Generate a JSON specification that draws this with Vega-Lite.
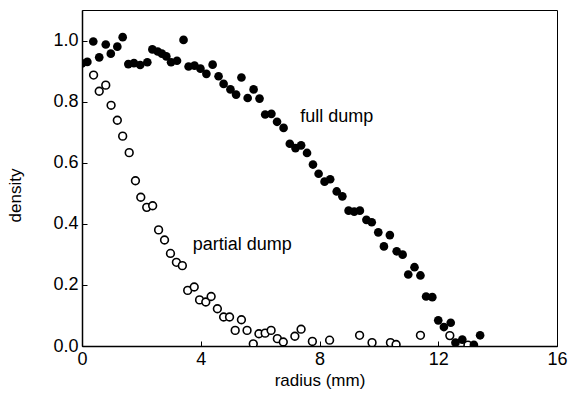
{
  "$schema": "https://vega.github.io/schema/vega-lite/v6.json",
  "width": 475,
  "height": 336,
  "autosize": "none",
  "padding": {"left": 82, "top": 10, "right": 11, "bottom": 56},
  "background": "white",
  "config": {
    "view": {"stroke": "black", "strokeWidth": 1},
    "font": "Liberation Sans",
    "axis": {
      "domainColor": "black", "domainWidth": 1.5,
      "tickColor": "black", "tickSize": -5, "tickWidth": 1,
      "labelColor": "black", "labelFont": "Liberation Sans", "labelFontSize": 18, "labelFlush": false, "labelOverlap": false,
      "titleColor": "black", "titleFont": "Liberation Sans", "titleFontSize": 17, "titleFontWeight": "normal",
      "grid": false
    }
  },
  "datasets": {
    "pts": [
      {"r": 0.0, "density": 0.925, "series": "full"},
      {"r": 0.18, "density": 0.93, "series": "full"},
      {"r": 0.38, "density": 0.997, "series": "full"},
      {"r": 0.58, "density": 0.945, "series": "full"},
      {"r": 0.80, "density": 0.987, "series": "full"},
      {"r": 0.97, "density": 0.957, "series": "full"},
      {"r": 1.19, "density": 0.98, "series": "full"},
      {"r": 1.37, "density": 1.011, "series": "full"},
      {"r": 1.56, "density": 0.923, "series": "full"},
      {"r": 1.75, "density": 0.926, "series": "full"},
      {"r": 1.96, "density": 0.92, "series": "full"},
      {"r": 2.2, "density": 0.929, "series": "full"},
      {"r": 2.37, "density": 0.971, "series": "full"},
      {"r": 2.55, "density": 0.964, "series": "full"},
      {"r": 2.69, "density": 0.957, "series": "full"},
      {"r": 2.84, "density": 0.948, "series": "full"},
      {"r": 3.0, "density": 0.929, "series": "full"},
      {"r": 3.2, "density": 0.934, "series": "full"},
      {"r": 3.42, "density": 1.002, "series": "full"},
      {"r": 3.59, "density": 0.915, "series": "full"},
      {"r": 3.79, "density": 0.918, "series": "full"},
      {"r": 3.99, "density": 0.908, "series": "full"},
      {"r": 4.19, "density": 0.891, "series": "full"},
      {"r": 4.4, "density": 0.921, "series": "full"},
      {"r": 4.6, "density": 0.883, "series": "full"},
      {"r": 4.77, "density": 0.858, "series": "full"},
      {"r": 5.0, "density": 0.84, "series": "full"},
      {"r": 5.19, "density": 0.823, "series": "full"},
      {"r": 5.37, "density": 0.879, "series": "full"},
      {"r": 5.58, "density": 0.812, "series": "full"},
      {"r": 5.78, "density": 0.84, "series": "full"},
      {"r": 5.98, "density": 0.81, "series": "full"},
      {"r": 6.17, "density": 0.758, "series": "full"},
      {"r": 6.38, "density": 0.76, "series": "full"},
      {"r": 6.57, "density": 0.734, "series": "full"},
      {"r": 6.79, "density": 0.714, "series": "full"},
      {"r": 7.0, "density": 0.662, "series": "full"},
      {"r": 7.19, "density": 0.648, "series": "full"},
      {"r": 7.38, "density": 0.657, "series": "full"},
      {"r": 7.58, "density": 0.632, "series": "full"},
      {"r": 7.78, "density": 0.594, "series": "full"},
      {"r": 7.97, "density": 0.564, "series": "full"},
      {"r": 8.17, "density": 0.538, "series": "full"},
      {"r": 8.36, "density": 0.546, "series": "full"},
      {"r": 8.58, "density": 0.506, "series": "full"},
      {"r": 8.77, "density": 0.49, "series": "full"},
      {"r": 8.98, "density": 0.443, "series": "full"},
      {"r": 9.17, "density": 0.44, "series": "full"},
      {"r": 9.36, "density": 0.443, "series": "full"},
      {"r": 9.58, "density": 0.413, "series": "full"},
      {"r": 9.76, "density": 0.405, "series": "full"},
      {"r": 9.98, "density": 0.372, "series": "full"},
      {"r": 10.17, "density": 0.326, "series": "full"},
      {"r": 10.37, "density": 0.363, "series": "full"},
      {"r": 10.6, "density": 0.31, "series": "full"},
      {"r": 10.8, "density": 0.299, "series": "full"},
      {"r": 10.99, "density": 0.234, "series": "full"},
      {"r": 11.2, "density": 0.258, "series": "full"},
      {"r": 11.4, "density": 0.231, "series": "full"},
      {"r": 11.59, "density": 0.162, "series": "full"},
      {"r": 11.8, "density": 0.16, "series": "full"},
      {"r": 12.0, "density": 0.084, "series": "full"},
      {"r": 12.19, "density": 0.062, "series": "full"},
      {"r": 12.42, "density": 0.076, "series": "full"},
      {"r": 12.58, "density": 0.011, "series": "full"},
      {"r": 12.81, "density": 0.021, "series": "full"},
      {"r": 13.2, "density": 0.004, "series": "full"},
      {"r": 13.41, "density": 0.035, "series": "full"},
      {"r": 0.39, "density": 0.887, "series": "partial"},
      {"r": 0.58, "density": 0.834, "series": "partial"},
      {"r": 0.80, "density": 0.854, "series": "partial"},
      {"r": 0.98, "density": 0.788, "series": "partial"},
      {"r": 1.19, "density": 0.739, "series": "partial"},
      {"r": 1.37, "density": 0.687, "series": "partial"},
      {"r": 1.59, "density": 0.633, "series": "partial"},
      {"r": 1.8, "density": 0.541, "series": "partial"},
      {"r": 1.98, "density": 0.487, "series": "partial"},
      {"r": 2.18, "density": 0.454, "series": "partial"},
      {"r": 2.38, "density": 0.459, "series": "partial"},
      {"r": 2.58, "density": 0.38, "series": "partial"},
      {"r": 2.78, "density": 0.347, "series": "partial"},
      {"r": 2.98, "density": 0.303, "series": "partial"},
      {"r": 3.18, "density": 0.274, "series": "partial"},
      {"r": 3.38, "density": 0.263, "series": "partial"},
      {"r": 3.56, "density": 0.182, "series": "partial"},
      {"r": 3.78, "density": 0.193, "series": "partial"},
      {"r": 3.96, "density": 0.151, "series": "partial"},
      {"r": 4.17, "density": 0.144, "series": "partial"},
      {"r": 4.35, "density": 0.162, "series": "partial"},
      {"r": 4.56, "density": 0.122, "series": "partial"},
      {"r": 4.77, "density": 0.095, "series": "partial"},
      {"r": 4.97, "density": 0.095, "series": "partial"},
      {"r": 5.16, "density": 0.051, "series": "partial"},
      {"r": 5.37, "density": 0.086, "series": "partial"},
      {"r": 5.56, "density": 0.051, "series": "partial"},
      {"r": 5.77, "density": 0.007, "series": "partial"},
      {"r": 5.96, "density": 0.04, "series": "partial"},
      {"r": 6.17, "density": 0.042, "series": "partial"},
      {"r": 6.37, "density": 0.051, "series": "partial"},
      {"r": 6.58, "density": 0.024, "series": "partial"},
      {"r": 6.78, "density": 0.013, "series": "partial"},
      {"r": 7.17, "density": 0.032, "series": "partial"},
      {"r": 7.38, "density": 0.055, "series": "partial"},
      {"r": 7.76, "density": 0.015, "series": "partial"},
      {"r": 8.34, "density": 0.019, "series": "partial"},
      {"r": 9.35, "density": 0.035, "series": "partial"},
      {"r": 9.77, "density": 0.011, "series": "partial"},
      {"r": 10.39, "density": 0.011, "series": "partial"},
      {"r": 10.58, "density": 0.005, "series": "partial"},
      {"r": 11.4, "density": 0.035, "series": "partial"},
      {"r": 12.39, "density": 0.034, "series": "partial"},
      {"r": 13.0, "density": 0.003, "series": "partial"}
    ],
    "notes": [
      {"r": 7.35, "density": 0.75, "label": "full dump"},
      {"r": 3.73, "density": 0.33, "label": "partial dump"}
    ]
  },
  "layer": [
    {
      "data": {"name": "pts"},
      "transform": [{"filter": "datum.series === 'partial'"}],
      "mark": {"type": "point", "shape": "circle", "filled": false, "fill": "white", "fillOpacity": 1, "stroke": "black", "strokeWidth": 1.6, "opacity": 1, "size": 60, "clip": true},
      "encoding": {
        "x": {"field": "r", "type": "quantitative", "scale": {"domain": [0, 16], "nice": false}, "axis": {"values": [0, 4, 8, 12, 16], "title": "radius (mm)", "labelPadding": 9, "titlePadding": 4}},
        "y": {"field": "density", "type": "quantitative", "scale": {"domain": [0, 1.1], "nice": false}, "axis": {"values": [0, 0.2, 0.4, 0.6, 0.8, 1.0], "format": ".1f", "title": "density", "labelPadding": 9, "titlePadding": 28, "titleY": 185}}
      }
    },
    {
      "data": {"name": "pts"},
      "transform": [{"filter": "datum.series === 'full'"}],
      "mark": {"type": "circle", "color": "black", "opacity": 1, "size": 75, "clip": true},
      "encoding": {
        "x": {"field": "r", "type": "quantitative"},
        "y": {"field": "density", "type": "quantitative"}
      }
    },
    {
      "data": {"name": "notes"},
      "mark": {"type": "text", "align": "left", "baseline": "middle", "fontSize": 18, "font": "Liberation Sans", "color": "black"},
      "encoding": {
        "x": {"field": "r", "type": "quantitative"},
        "y": {"field": "density", "type": "quantitative"},
        "text": {"field": "label"}
      }
    }
  ]
}
